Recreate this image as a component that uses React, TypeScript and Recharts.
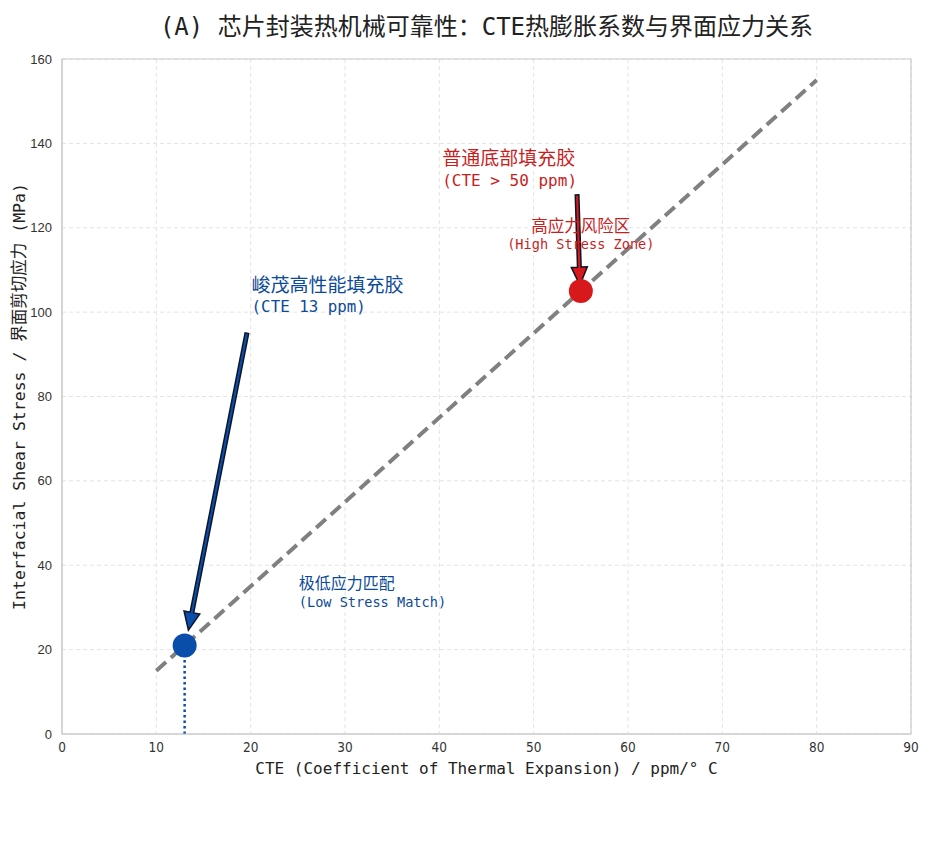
import React from "react";
import {
  CartesianGrid,
  ComposedChart,
  Line,
  ReferenceArea,
  ReferenceDot,
  ReferenceLine,
  Scatter,
  XAxis,
  YAxis,
  Cell,
} from "recharts";

// trend line: CTE vs interfacial shear stress
const trendCte = [10, 80];
const trendStress = [15, 155];

// the two underfill materials
const pointCte = [13, 55];
const pointStress = [21, 105];
const pointColors = ["#0A4DAA", "#D7191C"];

const xTicks = [0, 10, 20, 30, 40, 50, 60, 70, 80, 90];
const yTicks = [0, 20, 40, 60, 80, 100, 120, 140, 160];

const RED = "#C81E1E";
const BLUE = "#0B4A9A";
const MONO = "'DejaVu Sans Mono', 'Liberation Mono', 'Noto Sans CJK SC', monospace";
const CJK = "'Noto Sans CJK SC', 'DejaVu Sans Mono', sans-serif";

const trendData = trendCte.map((x, i) => ({ x, y: trendStress[i] }));
const pointData = pointCte.map((x, i) => ({ x, y: pointStress[i] }));

// annotation labels: anchor in data coords, two lines each
const notes = [
  { x: 40.3, y: 130, anchor: "start", color: RED, l1: "普通底部填充胶", s1: 19, d1: -21, l2: "(CTE > 50 ppm)", s2: 16 },
  { x: 55, y: 115, anchor: "middle", color: RED, l1: "高应力风险区", s1: 16.5, d1: -17, l2: "(High Stress Zone)", s2: 13.6 },
  { x: 20.1, y: 100, anchor: "start", color: BLUE, l1: "峻茂高性能填充胶", s1: 19, d1: -20, l2: "(CTE 13 ppm)", s2: 15.8 },
  { x: 25.1, y: 30, anchor: "start", color: BLUE, l1: "极低应力匹配", s1: 16, d1: -18, l2: "(Low Stress Match)", s2: 13.6 },
];

// arrows: tail -> tip
const arrows = [
  { from: [19.6, 95], to: [13.4, 24.6], fill: "#0A4DAA" },
  { from: [54.6, 127.8], to: [54.9, 106.4], fill: "#D7191C" },
];

function arrowShape(fill: string) {
  return (p: any) => {
    const { x1, y1, x2, y2 } = p;
    const dx = x2 - x1;
    const dy = y2 - y1;
    const len = Math.sqrt(dx * dx + dy * dy) || 1;
    const ux = dx / len;
    const uy = dy / len;
    const nx = -uy;
    const ny = ux;
    const w = 1.8;
    const hw = 8;
    const hl = 18;
    const bx = x2 - ux * hl;
    const by = y2 - uy * hl;
    const pts = [
      [x1 + nx * w, y1 + ny * w],
      [bx + nx * w, by + ny * w],
      [bx + nx * hw, by + ny * hw],
      [x2, y2],
      [bx - nx * hw, by - ny * hw],
      [bx - nx * w, by - ny * w],
      [x1 - nx * w, y1 - ny * w],
    ]
      .map((q) => q.join(","))
      .join(" ");
    return <polygon points={pts} fill={fill} stroke="#0E1526" strokeWidth={1.5} strokeLinejoin="miter" />;
  };
}

function noteShape(n: (typeof notes)[number]) {
  return (p: any) => (
    <g>
      <text x={p.cx} y={p.cy + n.d1} fill={n.color} fontSize={n.s1} fontFamily={CJK} textAnchor={n.anchor}>
        {n.l1}
      </text>
      <text x={p.cx} y={p.cy} fill={n.color} fontSize={n.s2} fontFamily={MONO} textAnchor={n.anchor}>
        {n.l2}
      </text>
    </g>
  );
}

export default function App() {
  return (
    <div style={{ position: "relative", width: 925, height: 840, background: "#fff" }}>
      <div
        style={{
          position: "absolute",
          left: 54,
          width: 849,
          top: -1,
          textAlign: "center",
          fontSize: 24,
          fontFamily: MONO,
          color: "#222",
          whiteSpace: "nowrap",
        }}
      >
        (A) 芯片封装热机械可靠性：CTE热膨胀系数与界面应力关系
      </div>
      <ComposedChart
        width={925}
        height={840}
        margin={{ top: 51, right: 22, left: 0, bottom: 64 }}
      >
        <CartesianGrid stroke="#E3E3E3" strokeDasharray="4 3" />
        <ReferenceArea x1={0} x2={90} y1={0} y2={160} fill="none" stroke="#CCCCCC" strokeWidth={1.2} />
        <XAxis
          type="number"
          dataKey="x"
          domain={[0, 90]}
          ticks={xTicks}
          axisLine={{ stroke: "#CCCCCC" }}
          tickLine={false}
          height={50}
          tick={{ fill: "#333", fontSize: 13.5, fontFamily: "'Liberation Sans Narrow', 'DejaVu Sans Condensed', 'Liberation Sans', sans-serif" }}
          tickMargin={2}
          label={{
            content: (props: any) => {
              const vb = props.viewBox;
              return (
                <text x={vb.x + vb.width / 2} y={vb.y + 40} textAnchor="middle" fontSize={16} fontFamily={MONO} fill="#222">
                  CTE (Coefficient of Thermal Expansion) / ppm/° C
                </text>
              );
            },
          }}
        />
        <YAxis
          type="number"
          dataKey="y"
          domain={[0, 160]}
          ticks={yTicks}
          width={54}
          axisLine={{ stroke: "#CCCCCC" }}
          tickLine={false}
          tickMargin={4}
          tick={{ fill: "#333", fontSize: 13, fontFamily: "'Liberation Sans', Arial, sans-serif" }}
          label={{
            content: (props: any) => {
              const vb = props.viewBox;
              const cx = 17;
              const cy = vb.y + vb.height / 2;
              return (
                <text
                  x={cx}
                  y={cy}
                  transform={`rotate(-90 ${cx} ${cy})`}
                  textAnchor="middle"
                  fontSize={16.5}
                  fontFamily={MONO}
                  fill="#222"
                >
                  Interfacial Shear Stress / 界面剪切应力 (MPa)
                </text>
              );
            },
          }}
        />
        <ReferenceLine
          segment={[
            { x: pointCte[0], y: 0 },
            { x: pointCte[0], y: pointStress[0] },
          ]}
          stroke="#0A4DAA"
          strokeWidth={2.5}
          strokeDasharray="2.5 3"
        />
        <Line
          data={trendData}
          dataKey="y"
          stroke="#808080"
          strokeWidth={4}
          strokeDasharray="13 6.5"
          dot={false}
          activeDot={false}
          isAnimationActive={false}
        />
        <Scatter
          data={pointData}
          dataKey="y"
          isAnimationActive={false}
          shape={(p: any) => <circle cx={p.cx} cy={p.cy} r={12} fill={p.fill} />}
        >
          {pointData.map((_, i) => (
            <Cell key={i} fill={pointColors[i]} />
          ))}
        </Scatter>
        {arrows.map((a, i) => (
          <ReferenceLine
            key={"a" + i}
            segment={[
              { x: a.from[0], y: a.from[1] },
              { x: a.to[0], y: a.to[1] },
            ]}
            shape={arrowShape(a.fill)}
          />
        ))}
        {notes.map((n, i) => (
          <ReferenceDot key={"n" + i} x={n.x} y={n.y} r={0} shape={noteShape(n)} />
        ))}
      </ComposedChart>
    </div>
  );
}
